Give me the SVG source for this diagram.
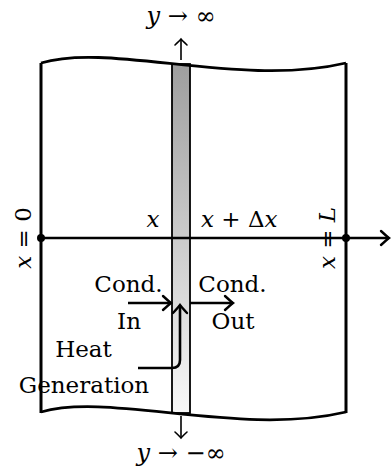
<svg xmlns="http://www.w3.org/2000/svg" width="391" height="470" viewBox="0 0 391 470">
<style>
text{font-family:"DejaVu Serif","Liberation Serif",serif;font-size:23px;fill:#000}
.m{font-style:italic}
.big{font-size:24px}
.edge{fill:none;stroke:#000;stroke-width:3}
.wave{fill:none;stroke:#000;stroke-width:2.8}
.ax{fill:none;stroke:#000;stroke-width:2.6}
.arr{fill:none;stroke:#000;stroke-width:2.6}
.thin{fill:none;stroke:#000;stroke-width:1.6}
</style>
<defs>
<linearGradient id="g" x1="0" y1="0" x2="0" y2="1">
<stop offset="0" stop-color="#9e9e9e"/>
<stop offset="1" stop-color="#f8f8f8"/>
</linearGradient>
<marker id="ah" markerUnits="userSpaceOnUse" markerWidth="20" markerHeight="20" refX="0" refY="0" viewBox="-12 -10 14 20" orient="auto">
<path d="M-8,-7 Q-2,-1.5 0,0 Q-2,1.5 -8,7" fill="none" stroke="#000" stroke-width="2.4" stroke-linecap="round"/>
</marker>
<marker id="ahs" markerUnits="userSpaceOnUse" markerWidth="20" markerHeight="20" refX="0" refY="0" viewBox="-12 -10 14 20" orient="auto">
<path d="M-6,-6 Q-1.5,-1.2 0,0 Q-1.5,1.2 -6,6" fill="none" stroke="#000" stroke-width="1.6" stroke-linecap="round"/>
</marker>
</defs>
<rect width="391" height="470" fill="#fff"/>
<g id="slab">
<rect x="172" y="64" width="18" height="349" fill="url(#g)" stroke="#000" stroke-width="1.8"/>
<line class="edge" x1="41" y1="63" x2="41" y2="413"/>
<line class="edge" x1="346" y1="63" x2="346" y2="413"/>
<path class="wave" d="M41,63 C110,42 240,88 346,63"/>
<path class="wave" d="M41,412 C110,392 240,437 346,412"/>
</g>
<g id="connectors">
<line class="ax" x1="41" y1="238" x2="389" y2="238" marker-end="url(#ah)"/>
<line class="thin" x1="181" y1="60" x2="181" y2="39" marker-end="url(#ahs)"/>
<line class="thin" x1="181" y1="416" x2="181" y2="438" marker-end="url(#ahs)"/>
<line class="arr" x1="128" y1="303" x2="171" y2="303" marker-end="url(#ah)"/>
<line class="arr" x1="190" y1="303" x2="233" y2="303" marker-end="url(#ah)"/>
<path class="arr" d="M138,368 L172,368 Q180,368 180,360 L180,305" marker-end="url(#ah)"/>
</g>
<g id="points">
<circle cx="41" cy="238" r="4"/>
<circle cx="346" cy="238" r="4"/>
</g>
<g id="labels">
<text x="181" y="24" text-anchor="middle" class="big"><tspan class="m">y</tspan> → ∞</text>
<text x="181" y="461" text-anchor="middle" class="big"><tspan class="m">y</tspan> → −∞</text>
<text x="153" y="227" text-anchor="middle" class="m">x</text>
<text x="201" y="227"><tspan class="m">x</tspan> + Δ<tspan class="m">x</tspan></text>
<text transform="translate(31,238) rotate(-90)" text-anchor="middle"><tspan class="m">x</tspan> = 0</text>
<text transform="translate(335,238) rotate(-90)" text-anchor="middle"><tspan class="m">x</tspan> = <tspan class="m">L</tspan></text>
<text x="128.5" y="292" text-anchor="middle">Cond.</text>
<text x="129" y="329" text-anchor="middle">In</text>
<text x="232.5" y="292" text-anchor="middle">Cond.</text>
<text x="233" y="329" text-anchor="middle">Out</text>
<text x="83.5" y="357" text-anchor="middle">Heat</text>
<text x="84" y="393" text-anchor="middle">Generation</text>
</g>
</svg>
